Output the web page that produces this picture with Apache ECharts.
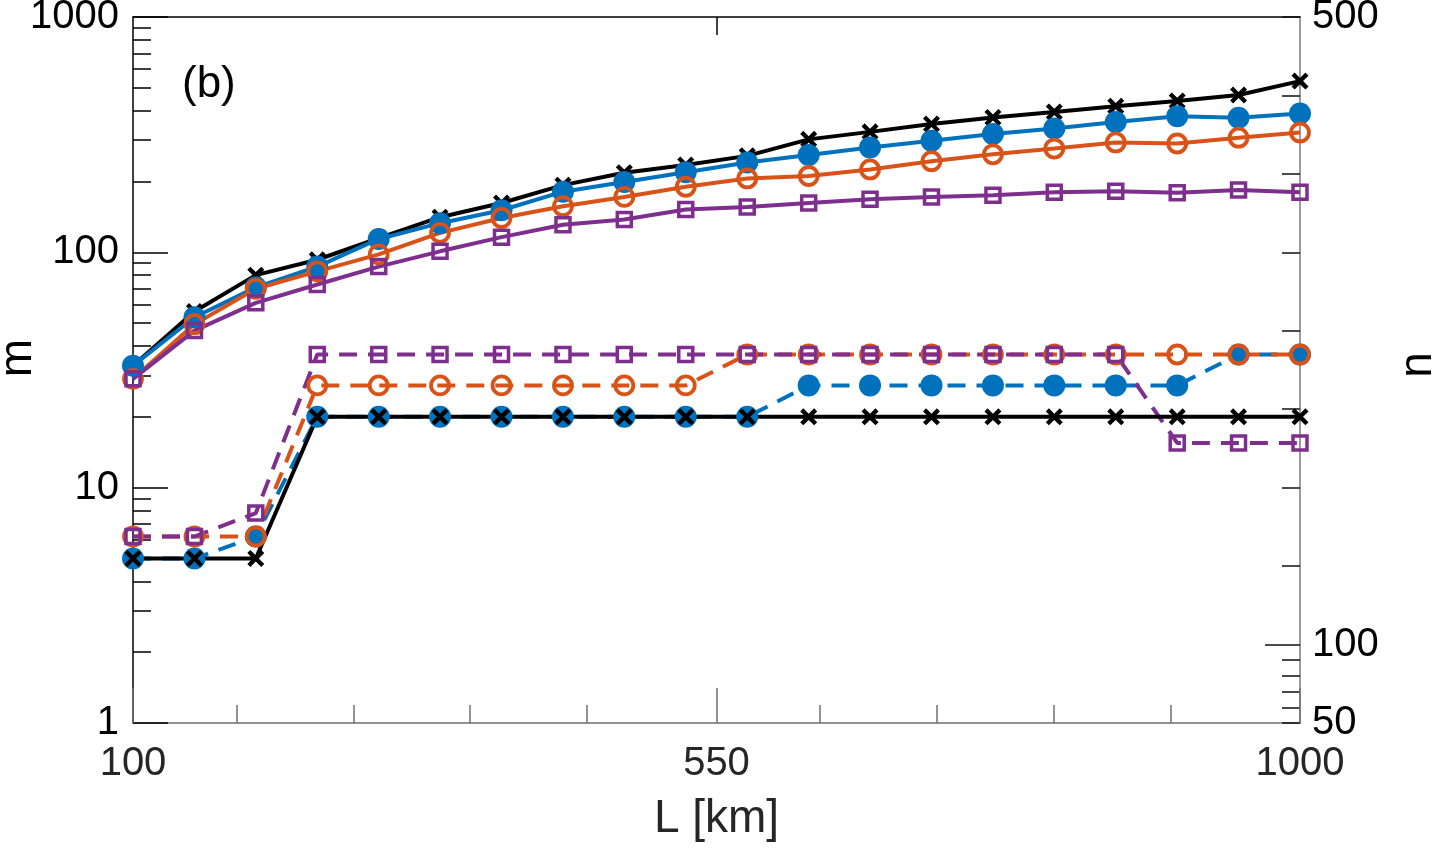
<!DOCTYPE html>
<html><head><meta charset="utf-8">
<script src="https://cdn.jsdelivr.net/npm/echarts@6/dist/echarts.min.js"></script>
<style>html,body{margin:0;padding:0;background:#fff}#c{width:1442px;height:850px}</style>
</head><body><div id="c"></div>
<script>
// ---- data ----
const L = [100, 147.4, 194.7, 242.1, 289.5, 336.8, 384.2, 431.6, 478.9, 526.3, 573.7, 621.1, 668.4, 715.8, 763.2, 810.5, 857.9, 905.3, 952.6, 1000];
// m (solid lines)
const mBlack  = [33, 56, 80, 93, 115, 141, 162, 193, 218, 235, 257, 302, 325, 351, 374, 395, 418, 440, 466, 534];
const mBlue   = [33, 53, 71, 87, 114, 133, 151, 181, 199, 219, 241, 259, 279, 298, 318, 336, 358, 379, 373, 389];
const mOrange = [29, 49.5, 70, 83, 98, 121, 140, 157, 172, 190, 206, 211, 225, 244, 261, 276, 293, 290, 307, 323];
const mPurple = [29, 46.5, 61, 73, 87, 101, 116, 131, 138, 152, 156, 162, 168, 172, 175, 180, 182, 179, 184, 180];
// n (lower group)
const nBlack  = [5, 5, 5, 20, 20, 20, 20, 20, 20, 20, 20, 20, 20, 20, 20, 20, 20, 20, 20, 20];
const nBlue   = [5, 5, 6.2, 20, 20, 20, 20, 20, 20, 20, 20, 27.2, 27.2, 27.2, 27.2, 27.2, 27.2, 27.2, 36.8, 36.8];
const nOrange = [6.2, 6.2, 6.2, 27.2, 27.2, 27.2, 27.2, 27.2, 27.2, 27.2, 36.8, 36.8, 36.8, 36.8, 36.8, 36.8, 36.8, 36.8, 36.8, 36.8];
const nPurple = [6.2, 6.2, 7.8, 36.8, 36.8, 36.8, 36.8, 36.8, 36.8, 36.8, 36.8, 36.8, 36.8, 36.8, 36.8, 36.8, 36.8, 15.5, 15.5, 15.5];
// axis ticks / labels
const xTickMinor = [100, 180, 270, 360, 450, 630, 720, 810, 900, 1000];
const xTickMajor = [100, 550, 1000];
const xLabels = [100, 550, 1000];
const yLeftMinor = [2,3,4,5,6,7,8,9,20,30,40,50,60,70,80,90,200,300,400,500,600,700,800,900];
const yLeftMajor = [1, 10, 100, 1000];
const yRightMinor = [50,60,70,80,90,150,200,250,300,350,400,450,500];
const yRightMajor = [100];
const yRightLabels = [50, 100, 500];

const FONT = '"Liberation Sans", Arial, Helvetica, sans-serif';
const C = {black:'#000000', blue:'#0072BD', orange:'#D95319', purple:'#7E2F8E'};
const XSYM = 'path://M0,1.8L1.8,0L5,3.2L8.2,0L10,1.8L6.8,5L10,8.2L8.2,10L5,6.8L1.8,10L0,8.2L3.2,5Z';

function pts(ys){ return L.map((x,i)=>[x, ys[i]]); }
function ser(ys, color, kind, dashed){
  const s = {type:'line', xAxisIndex:0, yAxisIndex:0, data:pts(ys), silent:true, animation:false,
    lineStyle:{color:color, width:4, type: dashed ? [18,11] : 'solid', cap:'butt'},
    emphasis:{disabled:true}};
  if(kind==='x'){ s.symbol=XSYM; s.symbolSize=17; s.itemStyle={color:color}; }
  if(kind==='dot'){ s.symbol='circle'; s.symbolSize=22; s.itemStyle={color:color}; }
  if(kind==='ring'){ s.symbol='circle'; s.symbolSize=18; s.itemStyle={color:'rgba(255,255,255,0)', borderColor:color, borderWidth:3.8}; }
  if(kind==='sq'){ s.symbol='rect'; s.symbolSize=14; s.itemStyle={color:'rgba(255,255,255,0)', borderColor:color, borderWidth:3.5}; }
  return s;
}
const intFmt = v => String(Math.round(v));

const chart = echarts.init(document.getElementById('c'), null, {renderer:'canvas'});
chart.setOption({
  animation:false,
  backgroundColor:'#ffffff',
  grid:{left:133, top:17, width:1167, height:706, containLabel:false, outerBoundsMode:'none'},
  graphic:[{type:'text', left:182, top:63, silent:true,
    style:{text:'(b)', font:'44px ' + FONT, fill:'#000'}}],
  xAxis:[
    {type:'value', position:'bottom', min:100, max:1000,
     axisLine:{show:true, onZero:false, lineStyle:{color:'#707070', width:1.5}},
     axisTick:{show:true, inside:true, length:18, customValues:xTickMinor, lineStyle:{color:'#707070', width:1.5}},
     axisLabel:{show:true, customValues:xLabels, formatter:intFmt, fontSize:40, fontFamily:FONT, color:'#262626', margin:21},
     splitLine:{show:false},
     name:'L [km]', nameLocation:'middle', nameGap:73, nameMoveOverlap:false,
     nameTextStyle:{fontSize:46, fontFamily:FONT, color:'#262626'}},
    {type:'value', position:'bottom', min:100, max:1000, offset:0,
     axisLine:{show:false, onZero:false},
     axisTick:{show:true, inside:true, length:35, customValues:xTickMajor, lineStyle:{color:'#707070', width:1.5}},
     axisLabel:{show:false}, splitLine:{show:false}},
    {type:'value', position:'top', min:100, max:1000,
     axisLine:{show:true, onZero:false, lineStyle:{color:'#000', width:1.5}},
     axisTick:{show:true, inside:true, length:18, customValues:[550], lineStyle:{color:'#000', width:1.5}},
     axisLabel:{show:false}, splitLine:{show:false}}
  ],
  yAxis:[
    {type:'log', logBase:10, position:'left', min:1, max:1000,
     axisLine:{show:true, onZero:false, lineStyle:{color:'#000', width:1.5}},
     axisTick:{show:true, inside:true, length:18, customValues:yLeftMinor, lineStyle:{color:'#000', width:1.5}},
     axisLabel:{show:true, customValues:yLeftMajor, formatter:intFmt, fontSize:40, fontFamily:FONT, color:'#000', margin:14},
     splitLine:{show:false},
     name:'m', nameLocation:'middle', nameGap:92, nameRotate:90, nameMoveOverlap:false,
     nameTextStyle:{fontSize:46, fontFamily:FONT, color:'#000', padding:[0,0,0,24]}},
    {type:'log', logBase:10, position:'left', min:1, max:1000, offset:0,
     axisLine:{show:false, onZero:false},
     axisTick:{show:true, inside:true, length:35, customValues:yLeftMajor, lineStyle:{color:'#000', width:1.5}},
     axisLabel:{show:false}, splitLine:{show:false}},
    {type:'value', position:'right', min:50, max:500,
     axisLine:{show:true, onZero:false, lineStyle:{color:'#7a7a7a', width:1.5}},
     axisTick:{show:true, inside:true, length:18, customValues:yRightMinor, lineStyle:{color:'#111', width:1.5}},
     axisLabel:{show:true, customValues:yRightLabels, formatter:intFmt, fontSize:40, fontFamily:FONT, color:'#000', margin:12},
     splitLine:{show:false},
     name:'n', nameLocation:'middle', nameGap:95, nameRotate:90, nameMoveOverlap:false,
     nameTextStyle:{fontSize:46, fontFamily:FONT, color:'#000', padding:[0,0,0,10]}},
    {type:'value', position:'right', min:50, max:500, offset:0,
     axisLine:{show:false, onZero:false},
     axisTick:{show:true, inside:true, length:35, customValues:yRightMajor, lineStyle:{color:'#111', width:1.5}},
     axisLabel:{show:false}, splitLine:{show:false}}
  ],
  series:[
    ser(mBlack, C.black, 'x', false),
    ser(mBlue, C.blue, 'dot', false),
    ser(mOrange, C.orange, 'ring', false),
    ser(mPurple, C.purple, 'sq', false),
    ser(nBlue, C.blue, 'dot', true),
    ser(nOrange, C.orange, 'ring', true),
    ser(nPurple, C.purple, 'sq', true),
    ser(nBlack, C.black, 'x', false)
  ]
});
</script>
</body></html>
